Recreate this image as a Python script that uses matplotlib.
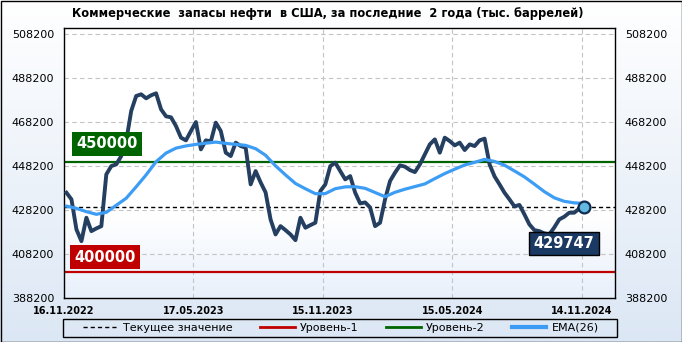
import numpy as np
import matplotlib.pyplot as plt
from matplotlib.lines import Line2D
from matplotlib.patches import Rectangle
from matplotlib.colors import LinearSegmentedColormap

title = "Коммерческие  запасы нефти  в США, за последние  2 года (тыс. баррелей)"

# weekly commercial crude stocks, thousand barrels
stocks = [436000, 432970, 419330, 414000, 424650, 418560, 419790, 420830, 444330, 448100,
          448880, 452650, 459470, 473100, 479920, 480690, 478870, 480240, 481150, 473870,
          470690, 470240, 466280, 461010, 459780, 464010, 468100, 455690, 459780, 459330,
          467830, 464010, 454190, 452650, 458740, 457190, 456470, 439790, 445830, 440700,
          436150, 423880, 417060, 420830, 419020, 417060, 414470, 424650, 420110, 421290,
          422380, 436740, 439790, 448100, 449650, 445830, 442060, 443560, 436010, 431150,
          431600, 429330, 420830, 422380, 432970, 441290, 445100, 448420, 447830, 446290,
          445380, 448880, 453420, 457970, 460240, 454190, 461010, 459470, 457510, 458740,
          455380, 457970, 457190, 459780, 460560, 448880, 443420, 439790, 436010, 432970,
          429790, 430470, 426150, 421610, 419020, 418560, 417520, 417060, 420240, 423880,
          425100, 426920, 426920, 428740, 429747]
weeks = np.arange(len(stocks))

ema_weeks = list(range(0, 105, 2))
ema_vals = [429920, 428900, 427400, 426200, 427100, 430300, 433500, 438700, 444100, 450100,
            454000, 456250, 457250, 457950, 458500, 459000, 458400, 457970, 457500, 456000,
            453000, 448200, 444100, 440200, 437800, 435560, 435600, 437830, 438650, 438740,
            438000, 436100, 434200, 436200, 437600, 438800, 440000, 442400, 444700, 446700,
            448600, 449800, 451150, 450200, 448500, 445900, 443200, 439900, 436500, 433700,
            432100, 431400, 431150]

current = 429747
level1 = 400000
level2 = 450000

date_ticks = [-0.5, 25.5, 51.5, 77.5, 103.5]
date_labels = ["16.11.2022", "17.05.2023", "15.11.2023", "15.05.2024", "14.11.2024"]
y_ticks = [388200, 408200, 428200, 448200, 468200, 488200, 508200]

fig = plt.figure(figsize=(6.82, 3.42), dpi=100)

# light blue gradient behind everything
grad = np.linspace(0, 1, 256).reshape(-1, 1)
bg = fig.add_axes([0, 0, 1, 1], zorder=-10)
bg.imshow(grad, aspect="auto", origin="lower", extent=[0, 1, 0, 1],
          cmap=LinearSegmentedColormap.from_list("bg", ["#dce7f5", "#ffffff"]))
bg.axis("off")

ax = fig.add_axes([64 / 682, 1 - 298 / 342, 551 / 682, 270 / 342])
xlim = (-0.5, 110.2)
ylim = (388200, 510800)
ax.imshow(grad, aspect="auto", origin="lower", extent=[*xlim, *ylim], zorder=0,
          cmap=LinearSegmentedColormap.from_list(
              "pl", [(0, "#e8f0fb"), (0.3, "#ffffff"), (1, "#ffffff")]))
ax.set_xlim(*xlim)
ax.set_ylim(*ylim)

ax.set_axisbelow(True)
ax.grid(color="#c4c4c4", linestyle=(0, (4, 3)), linewidth=0.8)

ax.axhline(current, color="black", lw=1, ls=(0, (3, 2.2)), zorder=2)
ax.axhline(level1, color="#c00000", lw=1.6, zorder=2)
ax.axhline(level2, color="#006400", lw=1.6, zorder=2)
ax.plot(weeks, stocks, color="#243f60", lw=2.8, zorder=3, solid_joinstyle="round")
ax.plot(ema_weeks, ema_vals, color="#3d9df5", lw=2.3, zorder=4)
ax.plot(weeks[-1], stocks[-1], "o", ms=8.5, mfc="#63b8e0", mec="#102a50", mew=1.6, zorder=6)

lbl = dict(textcoords="offset pixels", color="white", fontweight="bold", fontsize=10.5, zorder=7)
ax.annotate(f"{level2}", xy=(-0.5, level2), xytext=(12, 10.5), ha="left", va="bottom",
            bbox=dict(boxstyle="square,pad=0.3", fc="#006400", ec="none"), **lbl)
ax.annotate(f"{level1}", xy=(-0.5, level1), xytext=(10.5, 7.5), ha="left", va="bottom",
            bbox=dict(boxstyle="square,pad=0.3", fc="#c00000", ec="none"), **lbl)
ax.annotate(f"{current}", xy=(weeks[-1], current), xytext=(-20, -37), ha="center", va="center",
            bbox=dict(boxstyle="square,pad=0.3", fc="#1b3a63", ec="black", lw=1), **lbl)

ax.set_xticks(date_ticks, date_labels, fontsize=7, fontweight="bold")
ax.set_yticks(y_ticks, [str(v) for v in y_ticks])
ax.tick_params(axis="both", length=0)
ax.tick_params(axis="y", labelleft=True, labelright=True, pad=7, labelsize=8)
ax.tick_params(axis="x", pad=6)
for s in ax.spines.values():
    s.set_color("black")
    s.set_linewidth(1)

fig.text(327.5 / 682, 1 - 14 / 342, title, ha="center", va="center",
         fontsize=8.3, fontweight="bold")

handles = [Line2D([], [], color="black", lw=1, ls=(0, (3, 2.2))),
           Line2D([], [], color="#c00000", lw=2),
           Line2D([], [], color="#006400", lw=2),
           Line2D([], [], color="#3d9df5", lw=3)]
labels = ["Текущее значение", "Уровень-1", "Уровень-2", "EMA(26)"]
fig.legend(handles, labels, loc="center", ncol=4, frameon=False,
           bbox_to_anchor=(341 / 682, 1 - 328 / 342),
           fontsize=8, handlelength=3.1, handletextpad=0.45, columnspacing=2.5)
# legend frame spans the plot width
fig.add_artist(Rectangle((63 / 682, 1 - 337 / 342), 554 / 682, 18 / 342,
                         transform=fig.transFigure, fill=False, ec="black", lw=1))

fig.add_artist(Rectangle((0.5 / 682, 0.5 / 342), 681 / 682, 341 / 342,
                         transform=fig.transFigure, fill=False, ec="black", lw=1))

fig.savefig("out.png", dpi=100)
